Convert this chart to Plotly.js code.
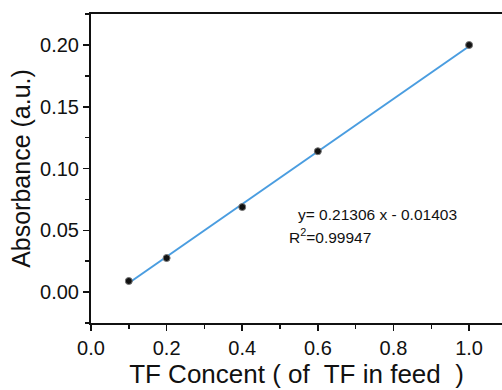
<!DOCTYPE html>
<html><head><meta charset="utf-8">
<script src="https://cdn.plot.ly/plotly-3.0.1.min.js"></script>
<style>html,body{margin:0;padding:0;background:#fff}</style>
</head><body><div id="c" style="width:502px;height:390px"></div>
<script>
const concX = [0.1, 0.2, 0.4, 0.6, 1.0];
const absY = [0.0089, 0.0275, 0.0688, 0.1140, 0.2000];
const fitX = [0.1, 1.0];
const fitY = [0.0073, 0.1990];
const xTicks = [0, 0.2, 0.4, 0.6, 0.8, 1.0];
const xTickLabels = ['0.0', '0.2', '0.4', '0.6', '0.8', '1.0'];
const yTicks = [0, 0.05, 0.10, 0.15, 0.20];
const yTickLabels = ['0.00', '0.05', '0.10', '0.15', '0.20'];

const FAM = 'Arial, Liberation Sans, sans-serif';
const traces = [
  {x: fitX, y: fitY, mode: 'lines', line: {color: '#4a9de0', width: 2}, hoverinfo: 'skip'},
  {x: concX, y: absY, mode: 'markers', marker: {color: '#111', size: 7, line: {color: '#777', width: 1}}}
];
const axFont = {family: FAM, size: 20, color: '#111'};
const layout = {
  width: 502, height: 390,
  margin: {l: 91, r: 0, t: 14, b: 67},
  showlegend: false,
  paper_bgcolor: '#fff', plot_bgcolor: '#fff',
  font: {family: FAM, color: '#111'},
  xaxis: {
    range: [0, 1.087], showgrid: false, zeroline: false,
    showline: true, mirror: true, linecolor: '#111', linewidth: 2,
    ticks: 'outside', ticklen: 6, tickwidth: 1.5, tickcolor: '#111',
    tickvals: xTicks, ticktext: xTickLabels, tickfont: axFont,
    minor: {dtick: 0.1, ticks: 'outside', ticklen: 4, tickwidth: 1.5, tickcolor: '#111'},
    title: {text: 'TF Concent ( of  TF in feed  )', font: {size: 26, family: FAM, color: '#111'}, standoff: 4}
  },
  yaxis: {
    range: [-0.0251, 0.2251], showgrid: false, zeroline: false,
    showline: true, linecolor: '#111', linewidth: 2,
    ticks: 'outside', ticklen: 6, tickwidth: 1.5, tickcolor: '#111',
    tickvals: yTicks, ticktext: yTickLabels, tickfont: axFont,
    minor: {dtick: 0.025, ticks: 'outside', ticklen: 4, tickwidth: 1.5, tickcolor: '#111'},
    title: {text: 'Absorbance (a.u.)', font: {size: 25, family: FAM, color: '#111'}, standoff: 2}
  },
  annotations: [
    {xref: 'paper', yref: 'paper', x: (296-91)/411, y: (323-215)/309, xanchor: 'left', yanchor: 'middle',
     text: 'y= 0.21306 x - 0.01403', showarrow: false, font: {size: 15.5, family: FAM, color: '#111'}},
    {xref: 'paper', yref: 'paper', x: (287-91)/411, y: (323-236)/309, xanchor: 'left', yanchor: 'middle',
     text: 'R<sup>2</sup>=0.99947', showarrow: false, font: {size: 15.5, family: FAM, color: '#111'}}
  ]
};
Plotly.newPlot('c', traces, layout, {displayModeBar: false, staticPlot: true});
</script></body></html>
